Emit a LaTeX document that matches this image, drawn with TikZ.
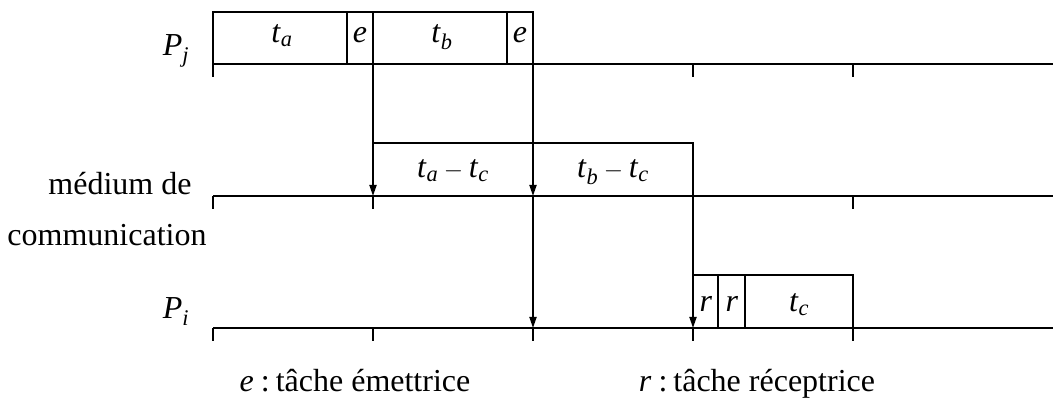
\documentclass[tikz,border=0pt]{standalone}
\usepackage{fontspec}
\usepackage{amsmath}
\setmainfont{Liberation Serif}
\usetikzlibrary{arrows.meta}
\newcommand{\iv}[2]{\textit{#1}$_{\textit{#2}}$}
\begin{document}
\begin{tikzpicture}[x=1pt,y=-1pt,
  axis/.style={line width=2.7pt},
  tickmark/.style={line width=2.4pt},
  box/.style={line width=2pt},
  sig/.style={line width=1.8pt,-{Triangle[length=11pt,width=7pt]}},
  lbl/.style={font=\fontsize{32}{38}\selectfont, inner sep=0pt, anchor=base}]
\useasboundingbox (0,0) rectangle (1053,398);
% coordinates
\coordinate (pjL) at (213,64);  \coordinate (pjR) at (1053,64);
\coordinate (mL) at (213,196);  \coordinate (mR) at (1053,196);
\coordinate (piL) at (213,328); \coordinate (piR) at (1053,328);
% axes
\draw[axis] (pjL) -- (pjR);
\draw[axis] (mL) -- (mR);
\draw[axis] (piL) -- (piR);
\foreach \y in {64,196,328}{
  \foreach \x in {213,373,533,693,853}{
    \draw[tickmark] (\x,\y) -- ++(0,13);
  }
}
% Pj boxes
\draw[box] (213,12) rectangle (533,64);
\draw[box] (347,12) -- (347,64);
\draw[box] (373,12) -- (373,64);
\draw[box] (507,12) -- (507,64);
% Pi boxes
\coordinate (pib) at (693,275);
\draw[box] (pib) -- (853,275) -- (853,328);
\draw[box] (718,275) -- (718,328);
\draw[box] (745,275) -- (745,328);
% signals
\coordinate (s1) at (373,64);  \coordinate (s1e) at (373,196);
\coordinate (s2) at (533,64);  \coordinate (s2e) at (533,196); \coordinate (s2f) at (533,328);
\coordinate (s3) at (373,143); \coordinate (s3c) at (693,143); \coordinate (s3e) at (693,328);
\draw[sig] (s1) -- (s1e);
\draw[sig] (s2) -- (s2e);
\draw[sig] (s2e) -- (s2f);
\draw[sig] (s3) -- (s3c) -- (s3e);
% labels
\node[lbl] (lpj) at (176,56) {\iv{P}{j}};
\node[lbl] (lpi) at (176,319) {\iv{P}{i}};
\node[lbl] (lm1) at (120,195) {médium de};
\node[lbl] (lm2) at (107,246) {communication};
\node[lbl] (lta) at (282,43) {\iv{t}{a}};
\node[lbl] (le1) at (360,43) {\textit{e}};
\node[lbl] (ltb) at (442,43) {\iv{t}{b}};
\node[lbl] (le2) at (520,43) {\textit{e}};
\node[lbl] (ldiff1) at (453,178) {\iv{t}{a}$\:-\:$\iv{t}{c}};
\node[lbl] (ldiff2) at (613,178) {\iv{t}{b}$\:-\:$\iv{t}{c}};
\node[lbl] (lr1) at (706,312) {\textit{r}};
\node[lbl] (lr2) at (732,312) {\textit{r}};
\node[lbl] (ltc) at (799,312) {\iv{t}{c}};
\node[lbl] (lege) at (355,391) {\textit{e}\kern7pt:\kern6pt tâche émettrice};
\node[lbl] (legr) at (757,391) {\textit{r}\kern7pt:\kern6pt tâche réceptrice};
\end{tikzpicture}
\end{document}
